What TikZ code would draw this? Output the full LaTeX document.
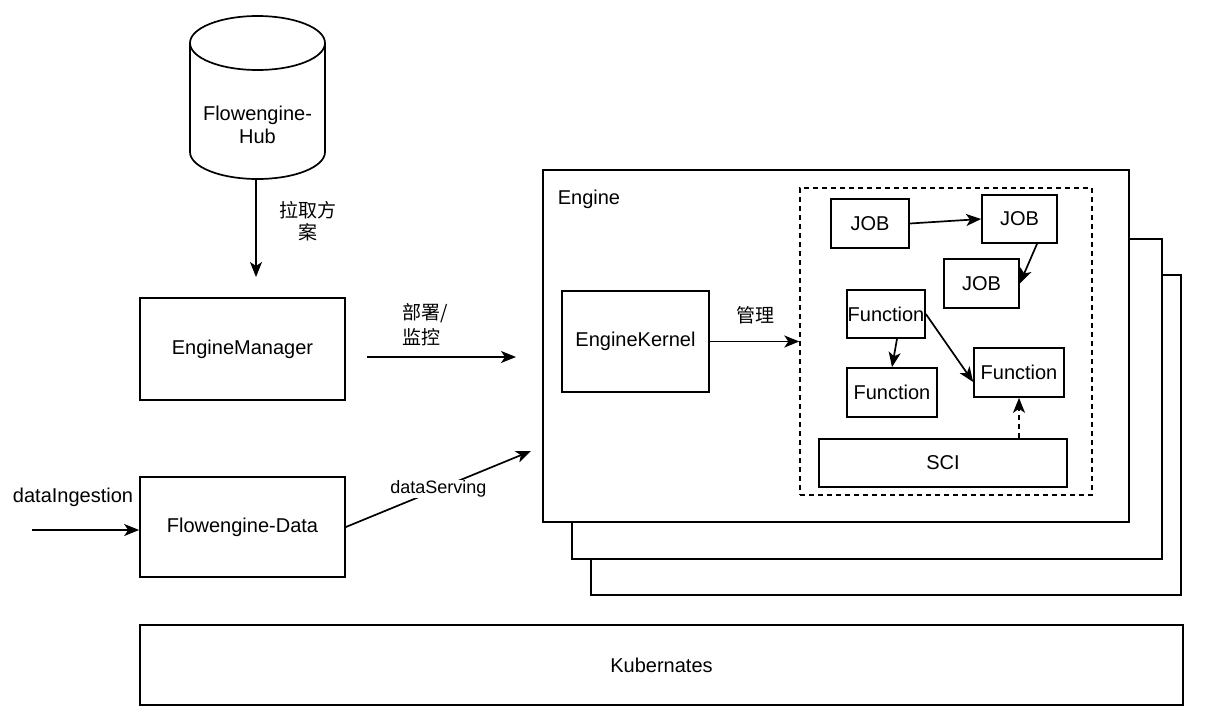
\documentclass[tikz,border=0pt]{standalone}
\usepackage{fontspec}
\setmainfont{Liberation Sans}
\newfontfamily\cjk{Noto Sans CJK SC}
\usetikzlibrary{arrows.meta,calc}
\begin{document}
\begin{tikzpicture}[x=1pt,y=-1pt,
  line width=1.7pt,
  every node/.style={font=\fontsize{20}{23.5}\selectfont},
  box/.style n args={2}{draw, fill=white, line width=1.7pt, inner sep=0pt,
    minimum width=#1pt, minimum height=#2pt},
  conn/.style={-{Stealth[length=15pt,width=12pt,inset=4pt]}, line width=1.7pt},
  dashline/.style={dash pattern=on 5pt off 4pt},
  lbl/.style={inner sep=1pt, align=center}
]
\fill[white] (0,0) rectangle (1214,726);
\useasboundingbox (0,0) rectangle (1214,726);

% Flowengine-Hub cylinder
\draw (257.5,43) ellipse [x radius=67.5, y radius=27];
\draw (190,43) -- (190,152)
  .. controls (190,166.9) and (220.22,179) .. (257.5,179)
  .. controls (294.78,179) and (325,166.9) .. (325,152) -- (325,43);
\node[lbl] (hub) at (257.5,125) {Flowengine-\\Hub};
\coordinate (hubbot) at (256,179);
\coordinate (pullend) at (256,277);
\draw[conn] (hubbot) -- (pullend);
\node[lbl, font=\cjk\fontsize{19}{22}\selectfont] (pull) at (308,221) {拉取方\\案};

% EngineManager
\node[box={205}{102}] (em) at (242.5,349) {EngineManager};
\coordinate (depS) at (367,357);
\coordinate (depE) at (516,357);
\draw[conn] (depS) -- (depE);
\node[lbl, align=left, anchor=west, font=\cjk\fontsize{19}{25}\selectfont] (dep) at (401,324.5) {部署/\\监控};

% Flowengine-Data
\node[box={205}{100}] (fd) at (242.5,527) {Flowengine-Data};
\coordinate (ingS) at (32,530);
\draw[conn] (ingS) -- (ingS -| fd.west);
\node[lbl] (ing) at (73,497) {dataIngestion};
\coordinate (servE) at (531,451);
\draw[conn] (fd.east) -- (servE) node[pos=0.5, fill=white, inner sep=1pt, font=\fontsize{18}{21}\selectfont] (serv) {dataServing};

% Kubernates
\node[box={1043}{80}] (k8s) at (661.5,665) {Kubernates};

% Engine stack
\node[box={590}{320}] (eng3) at (886,435) {};
\node[box={590}{320}] (eng2) at (867,399) {};
\node[box={586}{352}] (eng) at (836,346) {};
\node[anchor=west, inner sep=0pt] (englbl) at (557,199) {Engine};

\node[box={147}{101}] (ek) at (635.5,341.5) {EngineKernel};
\node[draw, dashline, line width=1.4pt, inner sep=0pt, minimum width=292pt, minimum height=307pt] (dash) at (946,341.5) {};
\draw[conn] (ek.east) -- (ek.east -| dash.west);
\node[font=\cjk\fontsize{19}{22}\selectfont] (mgmt) at (755,315) {管理};

% Jobs & functions
\node[box={78}{49}] (j1) at (870,223.5) {JOB};
\node[box={75}{48}] (j2) at (1019.5,219) {JOB};
\node[box={75}{49}] (j3) at (981.5,283.5) {JOB};
\node[box={78}{48}] (f1) at (886,314) {Function};
\node[box={90}{49}] (f2) at (892,392.5) {Function};
\node[box={90}{49}] (f3) at (1019,372.5) {Function};
\node[box={248}{48}] (sci) at (943,463) {SCI};

\draw[conn] (j1.east) -- (j2.west);
\draw[conn] ([xshift=17.5pt]j2.south) -- (j3.east);
\draw[conn] ([xshift=11pt]f1.south) -- (f2.north);
\draw[conn] (f1.east) -- ([yshift=-9.5pt]f3.west);
\draw[conn, dashline] (f3.south |- sci.north) -- (f3.south);
\end{tikzpicture}
\end{document}
